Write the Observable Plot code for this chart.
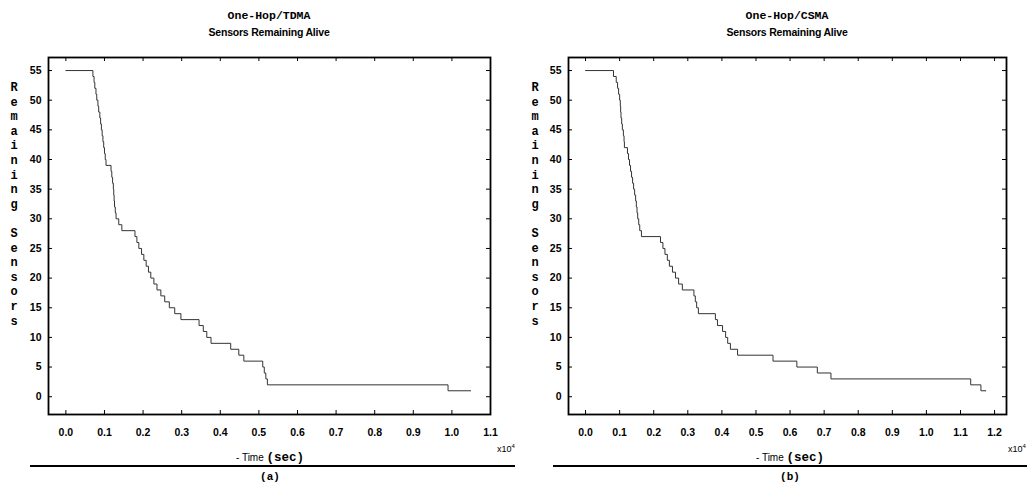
<!DOCTYPE html>
<html>
<head>
<meta charset="utf-8">
<script src="https://cdn.jsdelivr.net/npm/d3@7"></script>
<script src="https://cdn.jsdelivr.net/npm/@observablehq/plot@0.6"></script>
<style>
  body { margin: 0; background: #fff; }
  #fig { position: relative; width: 1027px; height: 486px; overflow: hidden; font-family: "Liberation Sans", Arial, sans-serif; color: #000; }
  .panel { position: absolute; top: 0; }
  .t { position: absolute; white-space: nowrap; transform: translate(-50%, -50%); }
  .title { font-family: "Liberation Mono", "Courier New", monospace; font-weight: bold; font-size: 11.5px; }
  .sub { font-weight: bold; font-size: 10.5px; letter-spacing: -0.2px; }
  .ylab { position: absolute; font-family: "Liberation Mono", monospace; font-weight: bold; font-size: 12px; line-height: 14.6px; text-align: center; white-space: pre; transform: translateX(-50%); }
  .xlab { font-size: 10px; }
  .xlab b { font-family: "Liberation Mono", monospace; font-size: 12.5px; }
  .exp { font-size: 9px; }
  .exp sup { font-size: 6px; }
  .rule { position: absolute; height: 2px; background: #000; }
  .cap { font-family: "Liberation Mono", monospace; font-size: 11px; font-weight: bold; }
</style>
</head>
<body>
<div id="fig"></div>
<script>
// Remaining alive sensors over time (time in units of 10^4 s)
const tdmaTime  = [0.000, 0.070, 0.073, 0.075, 0.078, 0.080, 0.083, 0.085, 0.088, 0.090, 0.092, 0.094, 0.096, 0.098, 0.100, 0.102, 0.104, 0.117, 0.119, 0.121, 0.123, 0.124, 0.125, 0.126, 0.128, 0.130, 0.137, 0.145, 0.179, 0.184, 0.189, 0.196, 0.202, 0.208, 0.214, 0.220, 0.228, 0.236, 0.246, 0.256, 0.268, 0.282, 0.298, 0.345, 0.356, 0.365, 0.376, 0.427, 0.448, 0.461, 0.510, 0.514, 0.518, 0.522, 0.990, 1.049];
const tdmaAlive = [55, 54, 53, 52, 51, 50, 49, 48, 47, 46, 45, 44, 43, 42, 41, 40, 39, 38, 37, 36, 35, 34, 33, 32, 31, 30, 29, 28, 27, 26, 25, 24, 23, 22, 21, 20, 19, 18, 17, 16, 15, 14, 13, 12, 11, 10, 9, 8, 7, 6, 5, 4, 3, 2, 1, 1];

const csmaTime  = [0.000, 0.082, 0.090, 0.094, 0.097, 0.100, 0.102, 0.103, 0.104, 0.106, 0.108, 0.111, 0.113, 0.114, 0.123, 0.126, 0.129, 0.132, 0.135, 0.138, 0.141, 0.144, 0.147, 0.149, 0.151, 0.153, 0.156, 0.159, 0.164, 0.220, 0.227, 0.233, 0.240, 0.246, 0.255, 0.264, 0.273, 0.284, 0.318, 0.322, 0.326, 0.331, 0.381, 0.387, 0.402, 0.411, 0.417, 0.425, 0.446, 0.550, 0.620, 0.680, 0.720, 1.130, 1.160, 1.175];
const csmaAlive = [55, 54, 53, 52, 51, 50, 49, 48, 47, 46, 45, 44, 43, 42, 41, 40, 39, 38, 37, 36, 35, 34, 33, 32, 31, 30, 29, 28, 27, 26, 25, 24, 23, 22, 21, 20, 19, 18, 17, 16, 15, 14, 13, 12, 11, 10, 9, 8, 7, 6, 5, 4, 3, 2, 1, 1];

const tdmaTicks = [0.0, 0.1, 0.2, 0.3, 0.4, 0.5, 0.6, 0.7, 0.8, 0.9, 1.0, 1.1];
const csmaTicks = [0.0, 0.1, 0.2, 0.3, 0.4, 0.5, 0.6, 0.7, 0.8, 0.9, 1.0, 1.1, 1.2];
const aliveTicks = [0, 5, 10, 15, 20, 25, 30, 35, 40, 45, 50, 55];

const fig = document.getElementById("fig");

function panel({left, width, marginLeft, marginRight, xDomain, xTicks, times, alive, title, caption, yLabelX, capX, expX, ruleFrom, ruleTo}) {
  const H = 486, marginTop = 57, marginBottom = 72;
  const frameW = width - marginLeft - marginRight;
  const frameH = H - marginTop - marginBottom;
  const rows = times.map((t, i) => ({t, n: alive[i]}));
  const tickStyle = {stroke: "#000", strokeWidth: 1};
  const svg = Plot.plot({
    width, height: H, marginLeft, marginRight, marginTop, marginBottom,
    style: {fontFamily: "'Liberation Sans', Arial, sans-serif", fontWeight: "bold", fontSize: "10.5px", background: "transparent"},
    x: {domain: xDomain},
    y: {domain: [-3, 57.2]},
    marks: [
      Plot.axisX(xTicks, {tickSize: 0, tickPadding: 14, tickFormat: d3.format(".1f"), label: null}),
      Plot.axisY(aliveTicks, {tickSize: 0, tickPadding: 7, label: null}),
      Plot.tickX(xTicks, {x: d => d, insetTop: frameH - 4, ...tickStyle}),
      Plot.tickX(xTicks, {x: d => d, insetBottom: frameH - 4, ...tickStyle}),
      Plot.tickY(aliveTicks, {y: d => d, insetRight: frameW - 4, ...tickStyle}),
      Plot.tickY(aliveTicks, {y: d => d, insetLeft: frameW - 4, ...tickStyle}),
      Plot.line(rows, {x: "t", y: "n", curve: "step-after", stroke: "#333", strokeWidth: 1}),
      Plot.frame({stroke: "#000", strokeWidth: 1.8})
    ]
  });
  const wrap = document.createElement("div");
  wrap.className = "panel";
  wrap.style.left = left + "px";
  wrap.appendChild(svg);
  fig.appendChild(wrap);

  const cx = left + marginLeft + frameW / 2;
  const add = (cls, html, x, y) => {
    const el = document.createElement("div");
    el.className = cls;
    el.innerHTML = html;
    el.style.left = x + "px";
    el.style.top = y + "px";
    fig.appendChild(el);
    return el;
  };
  add("t title", title, cx, 15);
  add("t sub", "Sensors Remaining Alive", cx, 32);
  add("ylab", "R\ne\nm\na\ni\nn\ni\nn\ng\n\nS\ne\nn\ns\no\nr\ns", yLabelX, 81);
  add("t xlab", "- Time <b>(sec)</b>", capX, 458);
  add("t exp", "x10<sup>4</sup>", expX, 448);
  const r = add("rule", "", ruleFrom, 465);
  r.style.width = (ruleTo - ruleFrom) + "px";
  add("t cap", caption, capX, 477);
}

panel({left: 0, width: 513, marginLeft: 48, marginRight: 23, xDomain: [-0.045, 1.1], xTicks: tdmaTicks,
       times: tdmaTime, alive: tdmaAlive, title: "One-Hop/TDMA", caption: "(a)",
       yLabelX: 14, capX: 270, expX: 506, ruleFrom: 30, ruleTo: 515});
panel({left: 514, width: 513, marginLeft: 54, marginRight: 21, xDomain: [-0.05, 1.235], xTicks: csmaTicks,
       times: csmaTime, alive: csmaAlive, title: "One-Hop/CSMA", caption: "(b)",
       yLabelX: 535, capX: 790, expX: 1017, ruleFrom: 553, ruleTo: 1027});
</script>
</body>
</html>
